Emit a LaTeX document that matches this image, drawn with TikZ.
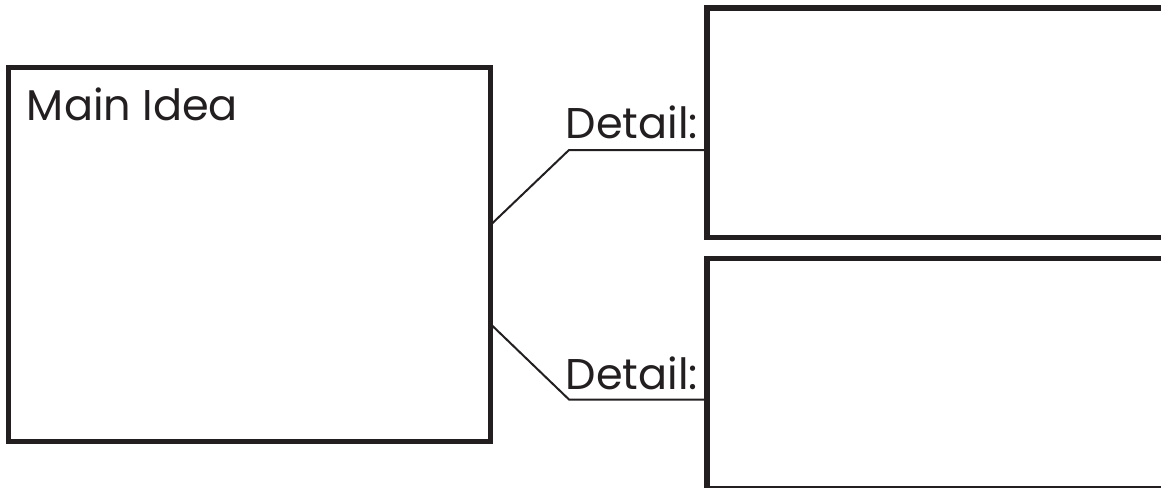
\documentclass[tikz,border=0pt]{standalone}
\usepackage{fontspec}
\setmainfont{Poppins}
\definecolor{ink}{HTML}{231F20}
\begin{document}
\begin{tikzpicture}[x=1pt,y=-1pt,
  box/.style={draw=ink, line width=5.2pt, inner sep=0pt, outer sep=0pt, anchor=north west, rectangle},
  conn/.style={draw=ink, line width=2pt},
  lbl/.style={text=ink, inner sep=0pt, outer sep=0pt, font=\fontsize{43}{43}\selectfont}]
\useasboundingbox (0,0) rectangle (1161,487);
\node[box, minimum width=482pt, minimum height=374pt] (main) at (8.5,67.5) {};
\node[box, minimum width=480pt, minimum height=229.5pt] (d1) at (707,8) {};
\node[box, minimum width=480pt, minimum height=229.5pt] (d2) at (707,258.7) {};
\node[lbl, anchor=base west] (mt) at (27,120) {Main Idea};
\node[lbl, anchor=base east] (t1) at (698,138) {Detail:};
\node[lbl, anchor=base east] (t2) at (698,389) {Detail:};
\coordinate (s1) at (0,225);
\coordinate (s2) at (0,324);
\coordinate (k1) at (569,150);
\coordinate (k2) at (569,399.5);
\draw[conn] (main.east |- s1) -- (k1) -- (d1.west |- k1);
\draw[conn] (main.east |- s2) -- (k2) -- (d2.west |- k2);
\end{tikzpicture}
\end{document}
